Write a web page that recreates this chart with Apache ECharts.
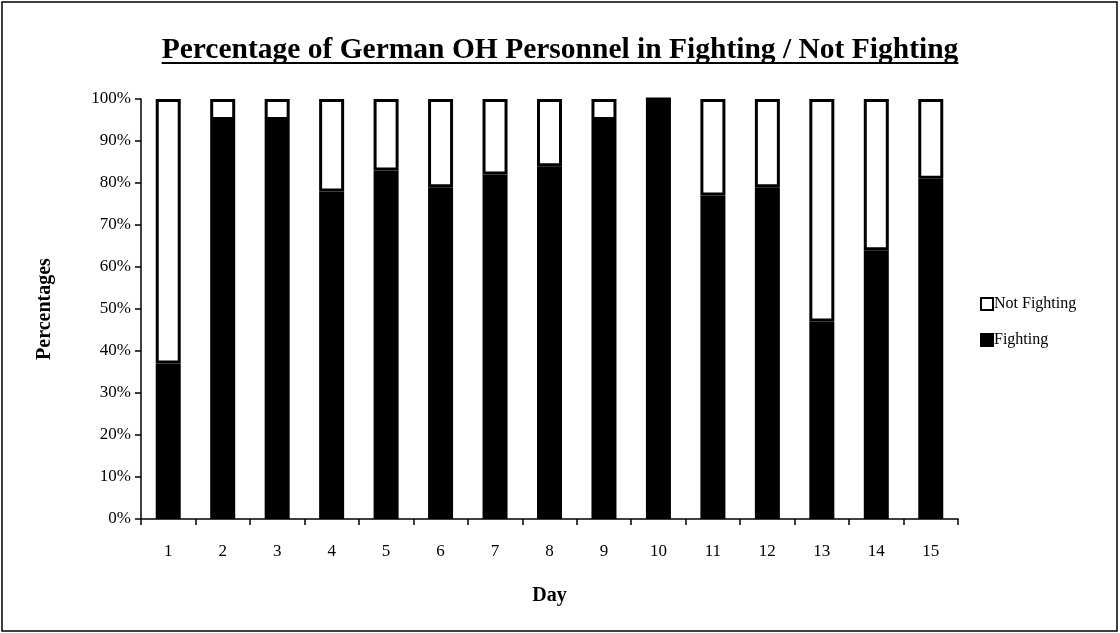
<!DOCTYPE html>
<html>
<head>
<meta charset="utf-8">
<script src="https://cdn.jsdelivr.net/npm/echarts@6/dist/echarts.min.js"></script>
<style>
  html, body { margin: 0; padding: 0; background: #fff; }
  #chart { width: 1120px; height: 633px; }
</style>
</head>
<body>
<div id="chart"></div>
<script>
var days = ['1', '2', '3', '4', '5', '6', '7', '8', '9', '10', '11', '12', '13', '14', '15'];
var fighting = [37, 95, 95, 78, 83, 79, 82, 84, 95, 100, 77, 79, 47, 64, 81];
var notFighting = [63, 5, 5, 22, 17, 21, 18, 16, 5, 0, 23, 21, 53, 36, 19];

var serif = '"Liberation Serif", "Times New Roman", serif';
var titleText = 'Percentage of German OH Personnel in Fighting / Not Fighting';
var titleSize = 29.5;

// width of title for the underline
var cv = document.createElement('canvas').getContext('2d');
cv.font = 'bold ' + titleSize + 'px ' + serif;
var titleW = cv.measureText(titleText).width;

var myChart = echarts.init(document.getElementById('chart'));
var option = {
    backgroundColor: '#fff',
    animation: false,
    title: {
        text: titleText,
        left: 'center',
        top: 30,
        textStyle: {
            fontFamily: serif,
            fontWeight: 'bold',
            fontSize: titleSize,
            color: '#000'
        }
    },
    legend: {
        orient: 'vertical',
        left: 975,
        top: 291,
        icon: 'rect',
        itemWidth: 12,
        itemHeight: 12,
        itemGap: 20,
        data: ['Not Fighting', 'Fighting'],
        textStyle: { fontFamily: serif, fontSize: 16, color: '#000', padding: [0, 0, 0, -4] }
    },
    grid: { left: 141, right: 162, top: 99, bottom: 114 },
    xAxis: {
        type: 'category',
        data: days,
        name: 'Day',
        nameLocation: 'middle',
        nameGap: 67,
        nameTextStyle: { fontFamily: serif, fontWeight: 'bold', fontSize: 20, color: '#000' },
        axisLine: { lineStyle: { color: '#000', width: 1.5 } },
        axisTick: { show: true, length: 6, lineStyle: { color: '#000', width: 1.5 } },
        axisLabel: { fontFamily: serif, fontSize: 17, color: '#000', margin: 24 }
    },
    yAxis: {
        type: 'value',
        min: 0,
        max: 100,
        interval: 10,
        name: 'Percentages',
        nameLocation: 'middle',
        nameGap: 86,
        nameTextStyle: { fontFamily: serif, fontWeight: 'bold', fontSize: 20, color: '#000' },
        axisLine: { show: true, lineStyle: { color: '#000', width: 1.5 } },
        axisTick: { show: true, length: 6, lineStyle: { color: '#000', width: 1.5 } },
        splitLine: { show: false },
        axisLabel: { fontFamily: serif, fontSize: 17, color: '#000', margin: 10, formatter: '{value}%' }
    },
    series: [
        {
            name: 'Fighting',
            type: 'bar',
            stack: 'total',
            barWidth: 25,
            data: fighting,
            itemStyle: { color: '#000', borderColor: '#000', borderWidth: 2 }
        },
        {
            name: 'Not Fighting',
            type: 'bar',
            stack: 'total',
            barWidth: 25,
            data: notFighting,
            itemStyle: { color: '#fff', borderColor: '#000', borderWidth: 3 }
        }
    ],
    graphic: [
        {
            type: 'rect',
            shape: { x: 2, y: 2, width: 1115, height: 629 },
            style: { fill: 'none', stroke: '#000', lineWidth: 1.5 }
        },
        {
            type: 'line',
            shape: { x1: 560 - titleW / 2, y1: 63, x2: 560 + titleW / 2, y2: 63 },
            style: { stroke: '#000', lineWidth: 2 }
        }
    ]
};
myChart.setOption(option);
</script>
</body>
</html>
